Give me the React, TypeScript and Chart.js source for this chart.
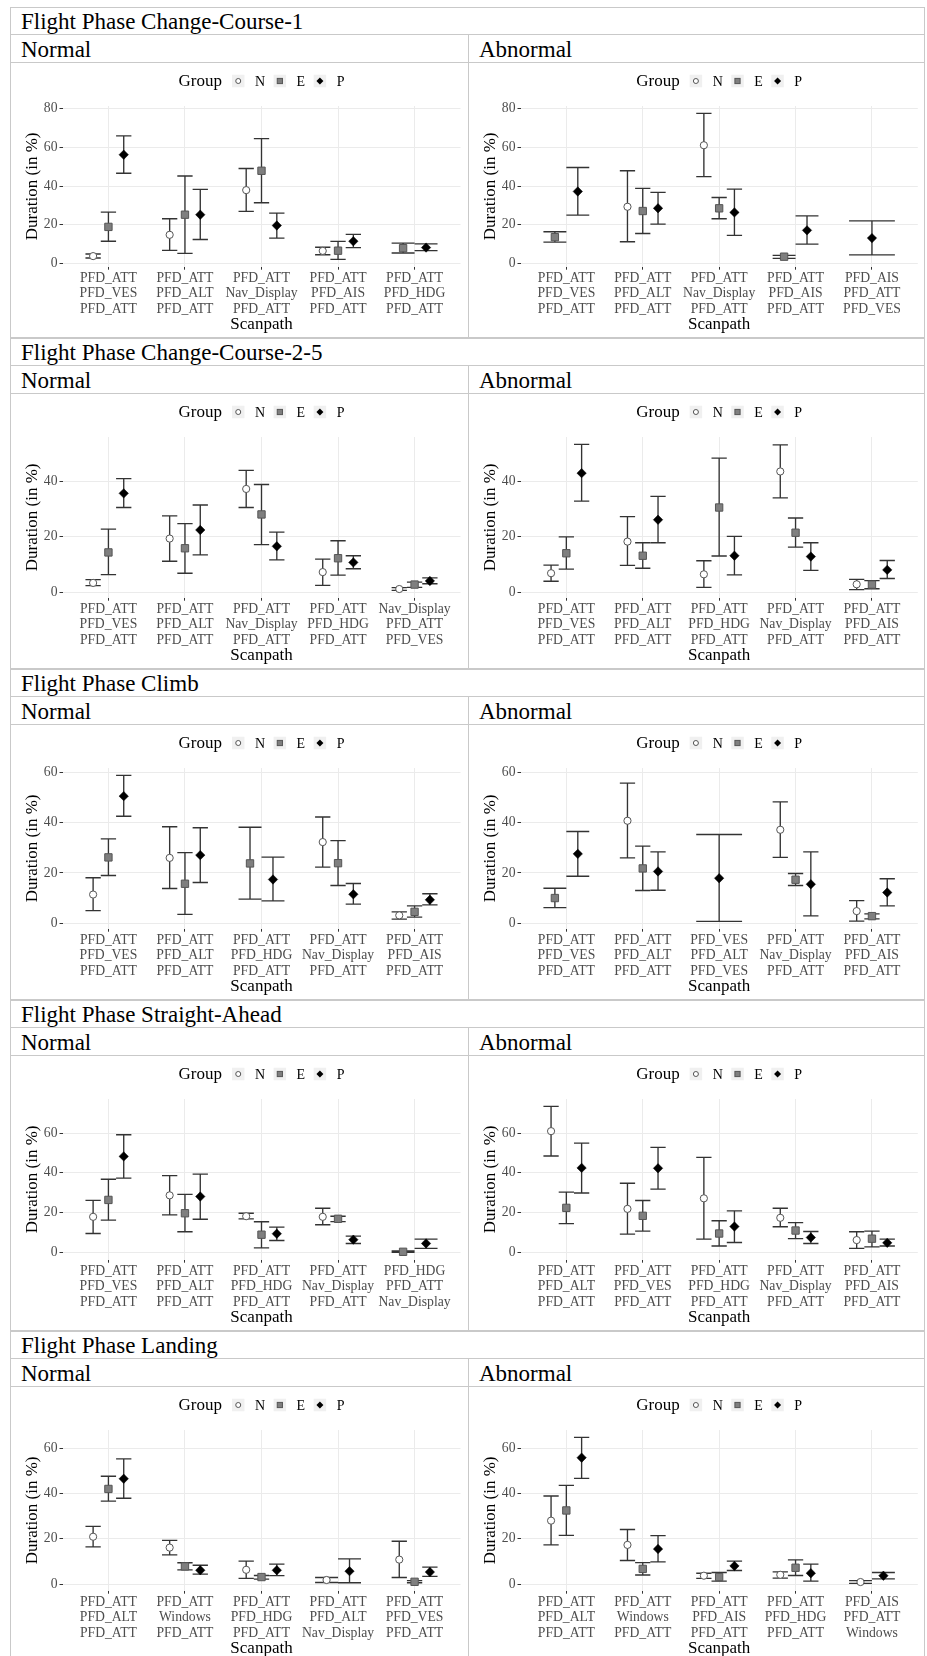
import React, { useEffect, useRef } from "react";
import { Chart, registerables } from "chart.js";

Chart.register(...registerables);

type T3 = [number, number, number] | null; // [mean, lower, upper]

const FONT = "'Liberation Serif', 'Times New Roman', serif";
Chart.defaults.font.family = FONT;

// ---------- labels ----------
const GROUPS = ["N", "E", "P"];
const LEGEND_TITLE = "Group";
const X_TITLE = "Scanpath";
const Y_TITLE = "Duration (in %)";
const CONDITIONS = ["Normal", "Abnormal"];
const PHASE_TITLES = [
  "Flight Phase Change-Course-1",
  "Flight Phase Change-Course-2-5",
  "Flight Phase Climb",
  "Flight Phase Straight-Ahead",
  "Flight Phase Landing",
];
const Y_TICKS = [0, 20, 40, 60, 80];

// ---------- categories ----------
const cc1NormalCats = [["PFD_ATT", "PFD_VES", "PFD_ATT"], ["PFD_ATT", "PFD_ALT", "PFD_ATT"], ["PFD_ATT", "Nav_Display", "PFD_ATT"], ["PFD_ATT", "PFD_AIS", "PFD_ATT"], ["PFD_ATT", "PFD_HDG", "PFD_ATT"]];
const cc1AbnormalCats = [["PFD_ATT", "PFD_VES", "PFD_ATT"], ["PFD_ATT", "PFD_ALT", "PFD_ATT"], ["PFD_ATT", "Nav_Display", "PFD_ATT"], ["PFD_ATT", "PFD_AIS", "PFD_ATT"], ["PFD_AIS", "PFD_ATT", "PFD_VES"]];
const cc25NormalCats = [["PFD_ATT", "PFD_VES", "PFD_ATT"], ["PFD_ATT", "PFD_ALT", "PFD_ATT"], ["PFD_ATT", "Nav_Display", "PFD_ATT"], ["PFD_ATT", "PFD_HDG", "PFD_ATT"], ["Nav_Display", "PFD_ATT", "PFD_VES"]];
const cc25AbnormalCats = [["PFD_ATT", "PFD_VES", "PFD_ATT"], ["PFD_ATT", "PFD_ALT", "PFD_ATT"], ["PFD_ATT", "PFD_HDG", "PFD_ATT"], ["PFD_ATT", "Nav_Display", "PFD_ATT"], ["PFD_ATT", "PFD_AIS", "PFD_ATT"]];
const climbNormalCats = [["PFD_ATT", "PFD_VES", "PFD_ATT"], ["PFD_ATT", "PFD_ALT", "PFD_ATT"], ["PFD_ATT", "PFD_HDG", "PFD_ATT"], ["PFD_ATT", "Nav_Display", "PFD_ATT"], ["PFD_ATT", "PFD_AIS", "PFD_ATT"]];
const climbAbnormalCats = [["PFD_ATT", "PFD_VES", "PFD_ATT"], ["PFD_ATT", "PFD_ALT", "PFD_ATT"], ["PFD_VES", "PFD_ALT", "PFD_VES"], ["PFD_ATT", "Nav_Display", "PFD_ATT"], ["PFD_ATT", "PFD_AIS", "PFD_ATT"]];
const straightNormalCats = [["PFD_ATT", "PFD_VES", "PFD_ATT"], ["PFD_ATT", "PFD_ALT", "PFD_ATT"], ["PFD_ATT", "PFD_HDG", "PFD_ATT"], ["PFD_ATT", "Nav_Display", "PFD_ATT"], ["PFD_HDG", "PFD_ATT", "Nav_Display"]];
const straightAbnormalCats = [["PFD_ATT", "PFD_ALT", "PFD_ATT"], ["PFD_ATT", "PFD_VES", "PFD_ATT"], ["PFD_ATT", "PFD_HDG", "PFD_ATT"], ["PFD_ATT", "Nav_Display", "PFD_ATT"], ["PFD_ATT", "PFD_AIS", "PFD_ATT"]];
const landingNormalCats = [["PFD_ATT", "PFD_ALT", "PFD_ATT"], ["PFD_ATT", "Windows", "PFD_ATT"], ["PFD_ATT", "PFD_HDG", "PFD_ATT"], ["PFD_ATT", "PFD_ALT", "Nav_Display"], ["PFD_ATT", "PFD_VES", "PFD_ATT"]];
const landingAbnormalCats = [["PFD_ATT", "PFD_ALT", "PFD_ATT"], ["PFD_ATT", "Windows", "PFD_ATT"], ["PFD_ATT", "PFD_AIS", "PFD_ATT"], ["PFD_ATT", "PFD_HDG", "PFD_ATT"], ["PFD_AIS", "PFD_ATT", "Windows"]];

// ---------- values [mean, lower, upper] ----------
const cc1NormalN: T3[] = [[3.8, 2.8, 4.9], [14.8, 6.8, 23.1], [37.9, 26.9, 49.1], [6.5, 4.5, 8.4], null];
const cc1NormalE: T3[] = [[18.9, 11.5, 26.5], [25.2, 5.2, 45.2], [47.9, 31.4, 64.5], [6.6, 2.1, 11.4], [7.9, 5.4, 10.5]];
const cc1NormalP: T3[] = [[56.2, 46.6, 65.9], [25.2, 12.4, 38.3], [19.6, 13.1, 26.0], [11.5, 8.2, 15.0], [8.2, 6.6, 10.1]];

const cc1AbnormalN: T3[] = [null, [29.3, 11.2, 47.9], [61.1, 44.9, 77.6], null, null];
const cc1AbnormalE: T3[] = [[13.6, 11.0, 16.4], [27.1, 15.5, 38.8], [28.5, 23.1, 34.1], [3.5, 2.6, 4.2], null];
const cc1AbnormalP: T3[] = [[37.2, 25.0, 49.6], [28.5, 20.3, 36.7], [26.4, 14.5, 38.4], [17.1, 10.0, 24.6], [13.1, 4.4, 22.0]];

const cc25NormalN: T3[] = [[3.3, 2.3, 4.5], [19.3, 11.1, 27.5], [37.2, 30.5, 43.9], [7.2, 2.4, 11.9], [1.1, 0.6, 1.6]];
const cc25NormalE: T3[] = [[14.3, 6.3, 22.7], [15.8, 6.8, 24.7], [28.0, 17.1, 38.8], [12.2, 6.1, 18.5], [2.7, 1.7, 3.6]];
const cc25NormalP: T3[] = [[35.6, 30.5, 40.9], [22.4, 13.4, 31.4], [16.5, 11.6, 21.6], [10.7, 8.4, 13.1], [4.0, 3.0, 5.1]];

const cc25AbnormalN: T3[] = [[6.8, 3.9, 9.7], [18.2, 9.6, 27.2], [6.4, 1.7, 11.3], [43.5, 34.0, 53.1], [2.8, 0.9, 4.6]];
const cc25AbnormalE: T3[] = [[14.0, 8.3, 19.9], [13.1, 8.6, 17.8], [30.5, 13.0, 48.3], [21.4, 16.2, 26.7], [2.7, 1.2, 4.1]];
const cc25AbnormalP: T3[] = [[42.9, 32.8, 53.3], [26.1, 17.8, 34.5], [13.1, 6.2, 20.1], [12.8, 7.8, 17.8], [8.0, 4.9, 11.4]];

const climbNormalN: T3[] = [[11.4, 5.0, 18.1], [26.0, 13.8, 38.4], null, [32.3, 22.3, 42.3], [3.1, 1.6, 4.5]];
const climbNormalE: T3[] = [[26.2, 19.0, 33.6], [15.7, 3.5, 28.1], [23.8, 9.6, 38.2], [23.9, 15.0, 32.9], [4.5, 2.4, 6.9]];
const climbNormalP: T3[] = [[50.6, 42.6, 58.9], [27.1, 16.2, 38.0], [17.4, 8.9, 26.3], [11.5, 7.6, 15.8], [9.3, 7.3, 11.7]];

const climbAbnormalN: T3[] = [null, [40.8, 26.0, 55.8], null, [37.2, 26.2, 48.3], [4.8, 0.8, 9.0]];
const climbAbnormalE: T3[] = [[10.0, 6.2, 13.9], [21.8, 13.0, 30.7], null, [17.3, 15.0, 19.8], [2.8, 1.7, 3.7]];
const climbAbnormalP: T3[] = [[27.6, 18.7, 36.5], [20.6, 13.1, 28.4], [17.9, 0.7, 35.3], [15.5, 2.9, 28.4], [12.2, 6.9, 17.7]];

const straightNormalN: T3[] = [[17.9, 9.5, 26.2], [28.7, 18.9, 38.6], [18.2, 16.9, 19.7], [17.9, 13.9, 22.2], null];
const straightNormalE: T3[] = [[26.4, 16.2, 36.8], [19.7, 10.4, 29.2], [8.9, 2.3, 15.4], [16.9, 15.5, 18.2], [0.3, 0.0, 0.7]];
const straightNormalP: T3[] = [[48.3, 37.4, 59.2], [28.1, 16.7, 39.4], [9.4, 6.0, 12.7], [6.4, 4.5, 8.2], [4.5, 2.0, 6.7]];

const straightAbnormalN: T3[] = [[61.0, 48.5, 73.5], [21.9, 9.2, 34.8], [27.2, 6.7, 47.8], [17.4, 12.9, 22.2], [6.2, 2.0, 10.4]];
const straightAbnormalE: T3[] = [[22.4, 14.5, 30.3], [18.4, 10.7, 26.1], [9.5, 3.2, 15.9], [11.0, 6.9, 15.0], [6.9, 2.8, 10.7]];
const straightAbnormalP: T3[] = [[42.5, 29.9, 55.0], [42.3, 31.8, 52.8], [13.0, 5.0, 20.9], [7.5, 4.5, 10.5], [4.8, 3.2, 6.7]];

const landingNormalN: T3[] = [[20.9, 16.4, 25.5], [16.1, 12.9, 19.3], [6.3, 2.5, 10.1], [1.8, 0.7, 2.9], [10.8, 2.9, 18.9]];
const landingNormalE: T3[] = [[42.0, 36.6, 47.6], [7.8, 6.3, 9.4], [3.1, 2.2, 3.8], null, [1.0, 0.6, 1.5]];
const landingNormalP: T3[] = [[46.5, 37.9, 55.3], [6.1, 4.4, 8.3], [6.1, 3.7, 8.8], [5.7, 0.6, 11.1], [5.3, 3.4, 7.5]];

const landingAbnormalN: T3[] = [[28.0, 17.3, 38.9], [17.3, 10.4, 24.1], [3.7, 2.5, 4.8], [4.1, 2.6, 5.4], [0.9, 0.3, 1.5]];
const landingAbnormalE: T3[] = [[32.5, 21.5, 43.6], [6.7, 4.0, 9.5], [3.1, 1.3, 5.1], [7.2, 3.8, 10.7], null];
const landingAbnormalP: T3[] = [[55.8, 46.7, 64.8], [15.5, 9.8, 21.4], [8.0, 6.0, 10.1], [4.8, 1.3, 8.8], [3.7, 2.3, 5.1]];

type PanelDef = { cats: string[][]; series: T3[][] };
const ROWS: { title: string; panels: PanelDef[] }[] = [
  { title: PHASE_TITLES[0], panels: [
    { cats: cc1NormalCats, series: [cc1NormalN, cc1NormalE, cc1NormalP] },
    { cats: cc1AbnormalCats, series: [cc1AbnormalN, cc1AbnormalE, cc1AbnormalP] } ] },
  { title: PHASE_TITLES[1], panels: [
    { cats: cc25NormalCats, series: [cc25NormalN, cc25NormalE, cc25NormalP] },
    { cats: cc25AbnormalCats, series: [cc25AbnormalN, cc25AbnormalE, cc25AbnormalP] } ] },
  { title: PHASE_TITLES[2], panels: [
    { cats: climbNormalCats, series: [climbNormalN, climbNormalE, climbNormalP] },
    { cats: climbAbnormalCats, series: [climbAbnormalN, climbAbnormalE, climbAbnormalP] } ] },
  { title: PHASE_TITLES[3], panels: [
    { cats: straightNormalCats, series: [straightNormalN, straightNormalE, straightNormalP] },
    { cats: straightAbnormalCats, series: [straightAbnormalN, straightAbnormalE, straightAbnormalP] } ] },
  { title: PHASE_TITLES[4], panels: [
    { cats: landingNormalCats, series: [landingNormalN, landingNormalE, landingNormalP] },
    { cats: landingAbnormalCats, series: [landingAbnormalN, landingAbnormalE, landingAbnormalP] } ] },
];

// ---------- layout / style ----------
const ROW_TOPS = [7, 338, 669, 1000, 1331];
const ROW_LEFT = 10;
const ROW_W = 915;
const ROW_H = 331;
const BORDER = "#c9c9c9";
const CANVAS_H = 274;
const LEFT_W = 457;
const RIGHT_W = 455;
const DODGE = 0.6;

const STYLES = [
  { pointStyle: "circle", pointRadius: 3.6, pointBackgroundColor: "#ffffff", pointBorderColor: "#555555", pointBorderWidth: 1 },
  { pointStyle: "rect", pointRadius: 5.2, pointBackgroundColor: "#7f7f7f", pointBorderColor: "#555555", pointBorderWidth: 1 },
  { pointStyle: "rectRot", pointRadius: 4.7, pointBackgroundColor: "#000000", pointBorderColor: "#000000", pointBorderWidth: 0.5 },
];

function buildDatasets(series: T3[][]) {
  const ds: any[] = GROUPS.map((g, gi) => ({
    label: g,
    data: [] as { x: number; y: number }[],
    lo: [] as number[],
    hi: [] as number[],
    w: [] as number[],
    ...STYLES[gi],
    pointHoverRadius: STYLES[gi].pointRadius,
    showLine: false,
    clip: false,
  }));
  const nCat = series[0].length;
  for (let i = 0; i < nCat; i++) {
    const present = series.map((arr, gi) => (arr[i] ? gi : -1)).filter((v) => v >= 0);
    const slot = DODGE / present.length;
    present.forEach((gi, k) => {
      const t = series[gi][i]!;
      ds[gi].data.push({ x: i - DODGE / 2 + slot * (k + 0.5), y: t[0] });
      ds[gi].lo.push(t[1]);
      ds[gi].hi.push(t[2]);
      ds[gi].w.push(slot);
    });
  }
  return ds;
}

const errorBarPlugin = {
  id: "errorBars",
  beforeDatasetsDraw(chart: any) {
    const { ctx } = chart;
    const xs = chart.scales.x;
    const ys = chart.scales.y;
    ctx.save();
    ctx.strokeStyle = "#333333";
    ctx.lineWidth = 1.35;
    chart.data.datasets.forEach((d: any) => {
      d.data.forEach((p: any, j: number) => {
        const xc = xs.getPixelForValue(p.x);
        const xl = xs.getPixelForValue(p.x - d.w[j] / 2);
        const xr = xs.getPixelForValue(p.x + d.w[j] / 2);
        const yl = ys.getPixelForValue(d.lo[j]);
        const yh = ys.getPixelForValue(d.hi[j]);
        ctx.beginPath();
        ctx.moveTo(xc, yl);
        ctx.lineTo(xc, yh);
        ctx.moveTo(xl, yl);
        ctx.lineTo(xr, yl);
        ctx.moveTo(xl, yh);
        ctx.lineTo(xr, yh);
        ctx.stroke();
      });
    });
    ctx.restore();
  },
};

const legendPlugin = {
  id: "groupLegend",
  afterDraw(chart: any) {
    const { ctx, chartArea } = chart;
    const cy = 18;
    const key = 12.5;
    const gapTK = 10, gapKL = 10.5, gapLK = 8.5;
    ctx.save();
    ctx.textBaseline = "middle";
    ctx.textAlign = "left";
    ctx.font = `17px ${FONT}`;
    const wTitle = ctx.measureText(LEGEND_TITLE).width;
    ctx.font = `14px ${FONT}`;
    const wl = GROUPS.map((g) => ctx.measureText(g).width);
    let total = wTitle + gapTK;
    wl.forEach((w, i) => { total += key + gapKL + w + (i < wl.length - 1 ? gapLK : 0); });
    let x = (chartArea.left + chartArea.right) / 2 - total / 2;
    ctx.fillStyle = "#000";
    ctx.font = `17px ${FONT}`;
    ctx.fillText(LEGEND_TITLE, x, cy + 1);
    x += wTitle + gapTK;
    GROUPS.forEach((g, i) => {
      ctx.fillStyle = "#f0f0f0";
      ctx.fillRect(x, cy - key / 2, key, key);
      const cx = x + key / 2;
      ctx.lineWidth = 1;
      if (i === 0) {
        ctx.beginPath();
        ctx.arc(cx, cy, 2.5, 0, Math.PI * 2);
        ctx.fillStyle = "#fff";
        ctx.fill();
        ctx.strokeStyle = "#555";
        ctx.stroke();
      } else if (i === 1) {
        ctx.fillStyle = "#7f7f7f";
        ctx.fillRect(cx - 2.6, cy - 2.6, 5.2, 5.2);
        ctx.strokeStyle = "#555";
        ctx.strokeRect(cx - 2.6, cy - 2.6, 5.2, 5.2);
      } else {
        ctx.beginPath();
        ctx.moveTo(cx, cy - 3.5);
        ctx.lineTo(cx + 3.5, cy);
        ctx.lineTo(cx, cy + 3.5);
        ctx.lineTo(cx - 3.5, cy);
        ctx.closePath();
        ctx.fillStyle = "#000";
        ctx.fill();
      }
      x += key + gapKL;
      ctx.fillStyle = "#000";
      ctx.font = `14px ${FONT}`;
      ctx.fillText(g, x, cy + 1);
      x += wl[i] + gapLK;
    });
    ctx.restore();
  },
};

function Panel({ def, yMin, yMax, width, padRight }: { def: PanelDef; yMin: number; yMax: number; width: number; padRight: number }) {
  const ref = useRef<HTMLCanvasElement>(null);
  useEffect(() => {
    const cats = def.cats;
    const chart = new Chart(ref.current!, {
      type: "scatter",
      data: { datasets: buildDatasets(def.series) },
      plugins: [errorBarPlugin, legendPlugin],
      options: {
        animation: false,
        responsive: true,
        maintainAspectRatio: false,
        devicePixelRatio: 1,
        events: [],
        layout: { padding: { left: 0, right: padRight, top: 43, bottom: 0 } },
        plugins: { legend: { display: false }, tooltip: { enabled: false } },
        scales: {
          x: {
            type: "linear",
            min: -DODGE,
            max: cats.length - 1 + DODGE,
            afterBuildTicks: (s: any) => { s.ticks = cats.map((_, i) => ({ value: i })); },
            afterFit: (s: any) => { s.height = 70.3; },
            grid: { color: "#ebebeb", lineWidth: 1, drawTicks: true, tickLength: 3, tickColor: "#333333", tickWidth: 1 },
            border: { display: false },
            ticks: {
              autoSkip: false,
              maxRotation: 0,
              minRotation: 0,
              padding: 1,
              color: "#4d4d4d",
              font: { family: FONT, size: 13.7, lineHeight: 1.12 },
              callback: (v: any) => cats[Math.round(Number(v))] as any,
            },
            title: { display: true, text: X_TITLE, color: "#000", font: { family: FONT, size: 17, lineHeight: 1.2 }, padding: { top: 0, bottom: 2.2 } },
          },
          y: {
            type: "linear",
            min: yMin,
            max: yMax,
            afterBuildTicks: (s: any) => { s.ticks = Y_TICKS.filter((v) => v >= s.min && v <= s.max).map((v) => ({ value: v })); },
            afterFit: (s: any) => { s.width = 51.5; },
            grid: { color: "#ebebeb", lineWidth: 1, drawTicks: true, tickLength: 3, tickColor: "#333333", tickWidth: 1 },
            border: { display: false },
            ticks: { padding: 2, color: "#4d4d4d", font: { family: FONT, size: 13.7 } },
            title: { display: true, text: Y_TITLE, color: "#000", font: { family: FONT, size: 17, lineHeight: 1.2 }, padding: { top: 11.8, bottom: 0 } },
          },
        },
      } as any,
    });
    return () => chart.destroy();
  }, []);
  return (
    <div style={{ position: "relative", width, height: CANVAS_H }}>
      <canvas ref={ref} />
    </div>
  );
}

function Row({ idx }: { idx: number }) {
  const row = ROWS[idx];
  let lo = Infinity, hi = -Infinity;
  row.panels.forEach((p) => p.series.forEach((s) => s.forEach((t) => { if (t) { lo = Math.min(lo, t[1]); hi = Math.max(hi, t[2]); } })));
  const pad = (hi - lo) * 0.05;
  const yMin = lo - pad, yMax = hi + pad;
  const stripText: React.CSSProperties = { fontSize: 23, paddingLeft: 10, color: "#000", whiteSpace: "nowrap" };
  return (
    <div style={{ position: "absolute", left: ROW_LEFT, top: ROW_TOPS[idx], width: ROW_W, height: ROW_H, border: `1px solid ${BORDER}`, boxSizing: "border-box", background: "#fff", overflow: "hidden" }}>
      <div style={{ height: 27, boxSizing: "border-box", borderBottom: `1px solid ${BORDER}`, lineHeight: "27px", ...stripText }}>{row.title}</div>
      <div style={{ display: "flex", height: 28, boxSizing: "border-box", borderBottom: `1px solid ${BORDER}` }}>
        <div style={{ width: LEFT_W + 1, flex: "none", boxSizing: "border-box", borderRight: `1px solid ${BORDER}`, lineHeight: "29px", ...stripText }}>{CONDITIONS[0]}</div>
        <div style={{ width: RIGHT_W, flex: "none", lineHeight: "29px", ...stripText }}>{CONDITIONS[1]}</div>
      </div>
      <div style={{ display: "flex" }}>
        <div style={{ width: LEFT_W + 1, flex: "none", boxSizing: "border-box", borderRight: `1px solid ${BORDER}` }}>
          <Panel def={row.panels[0]} yMin={yMin} yMax={yMax} width={LEFT_W} padRight={7.5} />
        </div>
        <div style={{ width: RIGHT_W, flex: "none" }}>
          <Panel def={row.panels[1]} yMin={yMin} yMax={yMax} width={RIGHT_W} padRight={6} />
        </div>
      </div>
    </div>
  );
}

export default function App() {
  return (
    <div style={{ position: "absolute", left: 0, top: 0, width: 927, height: 1656, overflow: "hidden", background: "#fff", fontFamily: FONT }}>
      {ROWS.map((_, i) => <Row key={i} idx={i} />)}
    </div>
  );
}
